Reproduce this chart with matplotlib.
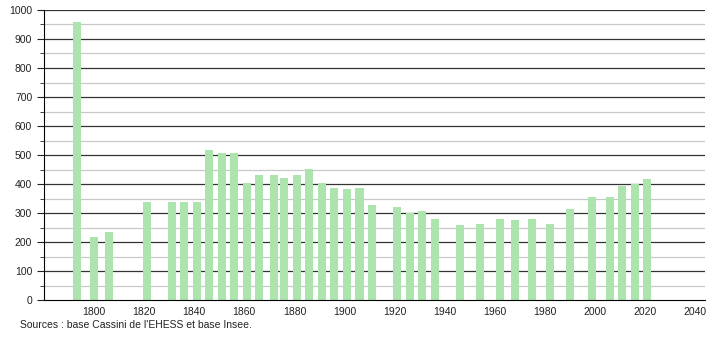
import matplotlib
matplotlib.use("Agg")
import matplotlib.pyplot as plt
from matplotlib.ticker import MultipleLocator

plt.rcParams['font.family'] = ['Liberation Sans', 'DejaVu Sans']

years = [1793, 1800, 1806, 1821, 1831, 1836, 1841, 1846, 1851, 1856,
         1861, 1866, 1872, 1876, 1881, 1886, 1891, 1896, 1901, 1906,
         1911, 1921, 1926, 1931, 1936, 1946, 1954, 1962, 1968, 1975,
         1982, 1990, 1999, 2006, 2011, 2016, 2021]
population = [957, 216, 234, 338, 338, 338, 338, 517, 508, 508,
              402, 431, 431, 420, 431, 451, 402, 385, 383, 385,
              328, 320, 299, 307, 278, 257, 262, 278, 276, 278,
              262, 313, 354, 354, 393, 400, 416]
source = "Sources : base Cassini de l'EHESS et base Insee."

fig = plt.figure(figsize=(7.1, 3.4), dpi=100)
ax = fig.add_axes([0.062, 0.1176, 0.931, 0.853])

# grid: dark every 100, light every 50
for v in range(50, 1000, 100):
    ax.axhline(v, color="#c8c8c8", lw=0.9, zorder=0)
for v in range(100, 1001, 100):
    ax.axhline(v, color="#333333", lw=0.9, zorder=0)

ax.bar(years, population, width=3.2, color="#ade3ad", zorder=2)

ax.set_xlim(1780, 2044)
ax.set_ylim(0, 1000)
ax.set_xticks(range(1800, 2041, 20))
ax.yaxis.set_major_locator(MultipleLocator(100))
ax.yaxis.set_minor_locator(MultipleLocator(50))
ax.tick_params(axis="x", length=0, labelsize=7.5, pad=5, colors="#222222")
ax.tick_params(axis="y", which="major", length=5, labelsize=7.5, colors="#222222")
ax.tick_params(axis="y", which="minor", length=3, colors="#222222")

for s in ["top", "right"]:
    ax.spines[s].set_visible(False)
ax.spines["left"].set_color("#000000")
ax.spines["bottom"].set_color("#000000")

fig.text(0.028, 0.035, source, fontsize=7.5, color="#222222")

fig.savefig("out.png", dpi=100)
